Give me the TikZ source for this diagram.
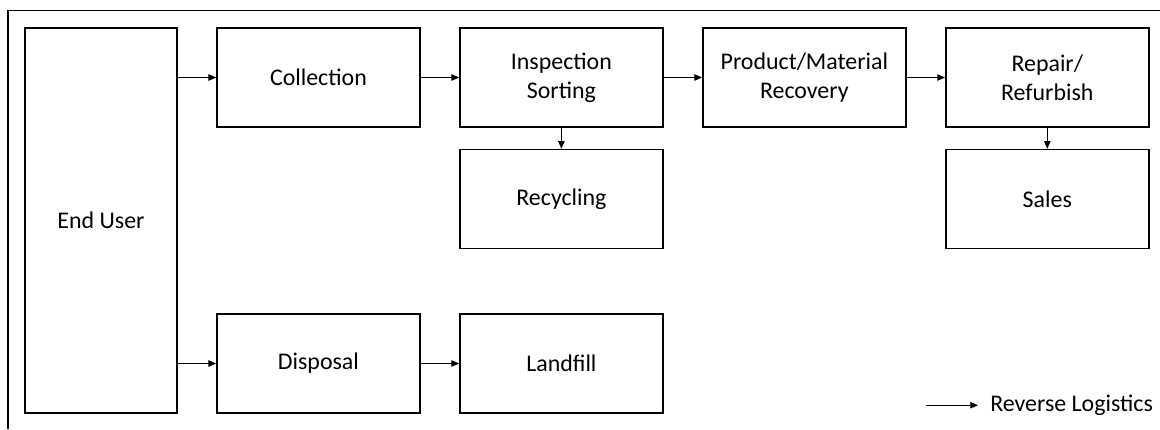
\documentclass[tikz,border=0pt]{standalone}
\usepackage{fontspec}
\setmainfont{Carlito}
\usetikzlibrary{positioning, arrows.meta}

\begin{document}
\begin{tikzpicture}[
        node distance=0.525cm and 0.96cm,
        box/.style={rectangle, draw, line width=1.1pt, minimum width=5.075cm, minimum height=2.475cm, align=center, font=\fontsize{17}{20.6}\selectfont},
        arrow/.style={-{Triangle[length=5.5pt, width=4.6pt]}, line width=0.6pt},
    ]
        \useasboundingbox (0,0) rectangle (29,-10.725);
        % frame (only top and left edges show)
        \draw[line width=1pt] (0.2,-10.725) -- (0.2,-0.26) -- (29,-0.26);

        \node[box, minimum width=3.8cm, minimum height=9.625cm] (user) at (2.525,-5.5125) {End User};
        \node[box, below right=0cm and 0.96cm of user.north east] (collect) {Collection};
        \node[box, right=of collect] (inspect) {Inspection\\Sorting};
        \node[box, right=of inspect] (recover) {Product/Material\\Recovery};
        \node[box, right=of recover] (repair) {Repair/\\Refurbish};
        \node[box, below=of inspect] (recycle) {Recycling};
        \node[box, below=of repair] (sales) {Sales};
        \node[box, above right=0cm and 0.96cm of user.south east] (dispose) {Disposal};
        \node[box, right=of dispose] (landfill) {Landfill};

        \draw[arrow] (user.east |- collect.west) -- (collect);
        \draw[arrow] (collect) -- (inspect);
        \draw[arrow] (inspect) -- (recover);
        \draw[arrow] (recover) -- (repair);
        \draw[arrow] (inspect) -- (recycle);
        \draw[arrow] (repair) -- (sales);
        \draw[arrow] (user.east |- dispose.west) -- (dispose);
        \draw[arrow] (dispose) -- (landfill);

        % legend
        \node[anchor=west, inner sep=0pt, font=\fontsize{17}{20}\selectfont] (legend) at (24.75,-10.13) {Reverse Logistics};
        \coordinate[left=1.6cm of legend.west] (legstart);
        \draw[arrow] (legstart) -- ([xshift=-0.3cm]legend.west);
    \end{tikzpicture}
\end{document}
